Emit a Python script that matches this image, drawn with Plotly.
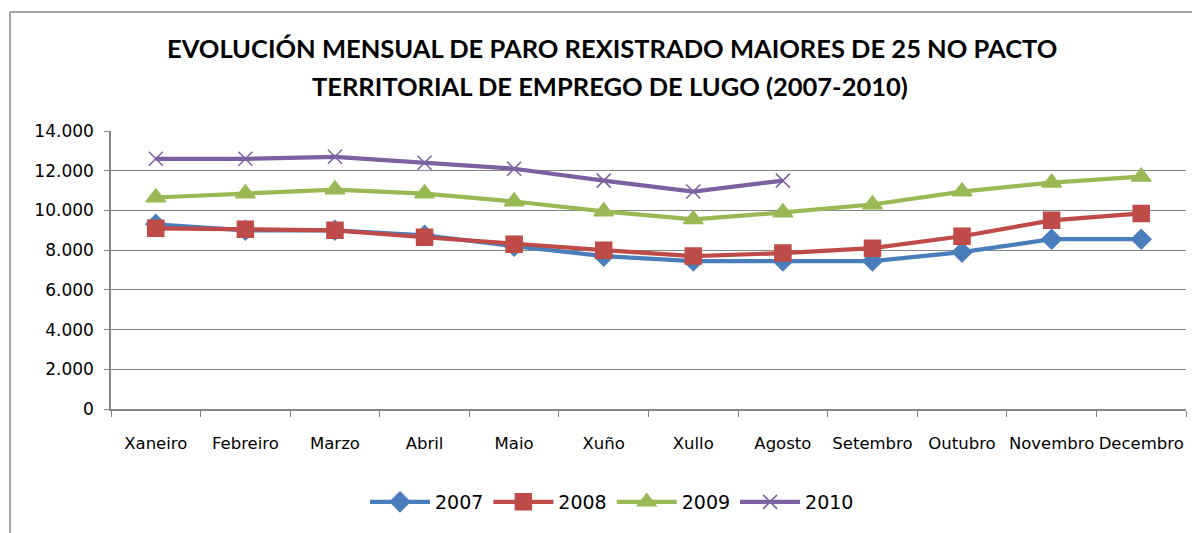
import plotly.graph_objects as go

months = ["Xaneiro", "Febreiro", "Marzo", "Abril", "Maio", "Xuño", "Xullo",
          "Agosto", "Setembro", "Outubro", "Novembro", "Decembro"]
y2007 = [9300, 9000, 9000, 8750, 8200, 7700, 7450, 7450, 7450, 7900, 8550, 8550]
y2008 = [9100, 9050, 9000, 8650, 8300, 8000, 7700, 7850, 8100, 8700, 9500, 9850]
y2009 = [10650, 10850, 11050, 10850, 10450, 9950, 9550, 9900, 10300, 10950, 11400, 11700]
y2010 = [12600, 12600, 12700, 12400, 12100, 11500, 10950, 11500]
y_ticks = [0, 2000, 4000, 6000, 8000, 10000, 12000, 14000]

title_lines = ["EVOLUCIÓN MENSUAL DE PARO REXISTRADO MAIORES DE 25 NO PACTO",
               "TERRITORIAL DE EMPREGO DE LUGO (2007-2010)"]

TITLE_FONT = "Lato, sans-serif"
FONT = "'DejaVu Sans', sans-serif"

# page body has an 8px margin; figure is laid out in figure pixels
W, H = 1192, 525
L, T, PW, PH = 103, 123, 1075, 278


def px_x(x):
    return (x - L) / PW


def px_y(y):
    return (T + PH - y) / PH


series = [
    ("2007", y2007, "#4A7EBB", "diamond", 15),
    ("2008", y2008, "#BE4B48", "square", 16),
    ("2009", y2009, "#98B954", "triangle-up", 17),
    ("2010", y2010, "#7D60A0", "x-thin", 14),
]

fig = go.Figure()
for name, vals, color, sym, size in series:
    fig.add_trace(go.Scatter(
        x=months[:len(vals)], y=vals, name=name, mode="lines+markers",
        line=dict(color=color, width=4.2),
        marker=dict(symbol=sym, size=size, color=color,
                    line=dict(color=color, width=1.5)),
    ))

fig.update_layout(
    width=W, height=H,
    margin=dict(l=L, r=W - L - PW, t=T, b=H - T - PH, autoexpand=False),
    paper_bgcolor="white", plot_bgcolor="white",
    separators=",.",
    font=dict(family=FONT, size=17, color="black"),
    legend=dict(orientation="h", x=px_x(604), xanchor="center", y=px_y(494), yanchor="middle",
                font=dict(size=19), itemwidth=60, traceorder="normal"),
    showlegend=True,
)
for line, yc, xc in zip(title_lines, [40, 78], [603.5, 602]):
    fig.add_annotation(text=line, xref="paper", yref="paper", x=px_x(xc), y=px_y(yc),
                       xanchor="center", yanchor="middle", showarrow=False,
                       font=dict(family=TITLE_FONT, size=25.5, color="black", weight="bold"))

fig.update_xaxes(
    type="category", categoryorder="array", categoryarray=months,
    showline=True, linecolor="#868686", linewidth=1.5,
    ticks="outside", tickson="boundaries", ticklen=6, tickcolor="#868686",
    showgrid=False, tickfont=dict(size=16.5), range=[-0.5, 11.5],
    tickangle=0, ticklabelstandoff=18, automargin=False,
)
fig.update_yaxes(
    range=[0, 14000], tickvals=y_ticks, tickformat=",d",
    showline=True, linecolor="#868686", linewidth=1.5,
    ticks="outside", ticklen=5, tickcolor="#868686",
    showgrid=True, gridcolor="#868686", gridwidth=1.2,
    zeroline=False, tickfont=dict(size=17), automargin=False,
    ticklabelstandoff=7,
)
# outer chart border (left and top edges visible)
fig.add_shape(type="line", xref="paper", yref="paper",
              x0=px_x(2), x1=px_x(2), y0=px_y(H), y1=px_y(4),
              line=dict(color="#868686", width=1.5))
fig.add_shape(type="line", xref="paper", yref="paper",
              x0=px_x(2), x1=px_x(W), y0=px_y(4), y1=px_y(4),
              line=dict(color="#868686", width=1.5))

fig.write_html("out.html")
